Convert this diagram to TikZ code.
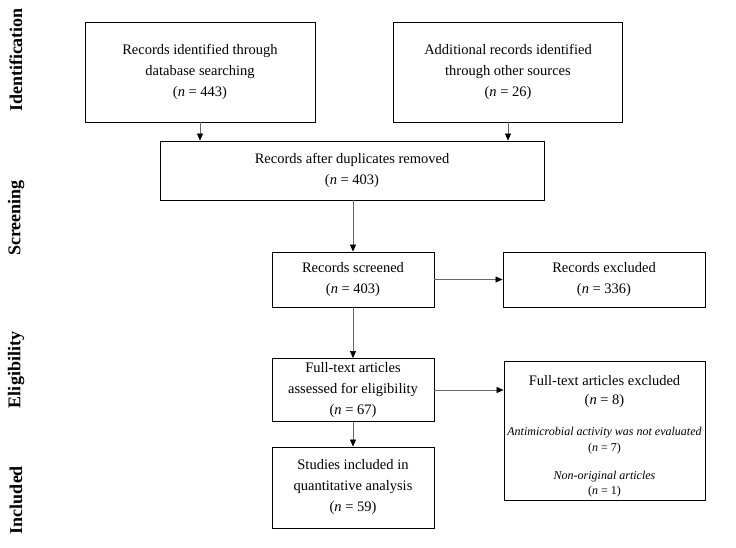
\documentclass[tikz,border=0pt]{standalone}
\usepackage{fontspec}
\setmainfont{Liberation Serif}
\usepackage{tikz}
\usetikzlibrary{arrows,arrows.meta}
\newcommand{\nn}[1]{(\textit{n} = #1)}
\newcommand{\smalltxt}{\fontsize{12}{15}\selectfont}

\begin{document}
\begin{tikzpicture}[x=1pt,y=-1pt,
  box/.style={draw=black,line width=0.9pt,align=center,inner sep=2pt,
    font=\fontsize{14.5}{21}\selectfont},
  flow/.style={-{Triangle[length=7pt,width=6pt,color=black]},draw=black!60,line width=0.6pt},
  phase/.style={rotate=90,font=\fontsize{18}{20}\selectfont\bfseries}]
			\useasboundingbox (0,0) rectangle (736,548);
			% phases
			\node[phase] (pid) at (16,60) {Identification};
			\node[phase] (psc) at (16,218) {Screening};
			\node[phase] (pel) at (16,370) {Eligibility};
			\node[phase] (pin) at (16,500) {Included};
			% boxes
			\node[box,minimum width=230,minimum height=100] (db) at (200,72) {Records identified through\\database searching\\\nn{443}};
			\node[box,minimum width=229,minimum height=100] (other) at (508,72) {Additional records identified\\through other sources\\\nn{26}};
			\node[box,minimum width=384,minimum height=59] (dup) at (352,170.5) {Records after duplicates removed\\\nn{403}};
			\node[box,minimum width=162,minimum height=55] (scr) at (353,279.5) {Records screened\\\nn{403}};
			\node[box,minimum width=202,minimum height=55] (exc) at (604,279.5) {Records excluded\\\nn{336}};
			\node[box,minimum width=162,minimum height=63] (full) at (353,390) {Full-text articles\\assessed for eligibility\\\nn{67}};
			\node[box,minimum width=201,minimum height=139,font=\fontsize{14.5}{19}\selectfont] (fexc) at (604.5,430.5) {\rule{0pt}{21pt}Full-text articles excluded\\\nn{8}\\[12pt]
				{\smalltxt\itshape Antimicrobial activity was not evaluated}\\[-3pt]{\smalltxt\nn{7}}\\[9pt]
				{\smalltxt\itshape Non-original articles}\\[-4pt]{\smalltxt\nn{1}}};
			\node[box,minimum width=162,minimum height=81] (incl) at (353,487.5) {Studies included in\\quantitative analysis\\\nn{59}};
			% arrows
			\draw[flow] (db.south) -- (db.south |- dup.north);
			\draw[flow] (other.south) -- (other.south |- dup.north);
			\draw[flow] (dup.south -| scr.north) -- (scr.north);
			\draw[flow] (scr.east) -- (scr.east -| exc.west);
			\draw[flow] (scr.south) -- (full.north);
			\draw[flow] (full.east) -- (full.east -| fexc.west);
			\draw[flow] (full.south) -- (incl.north);
		\end{tikzpicture}
\end{document}
